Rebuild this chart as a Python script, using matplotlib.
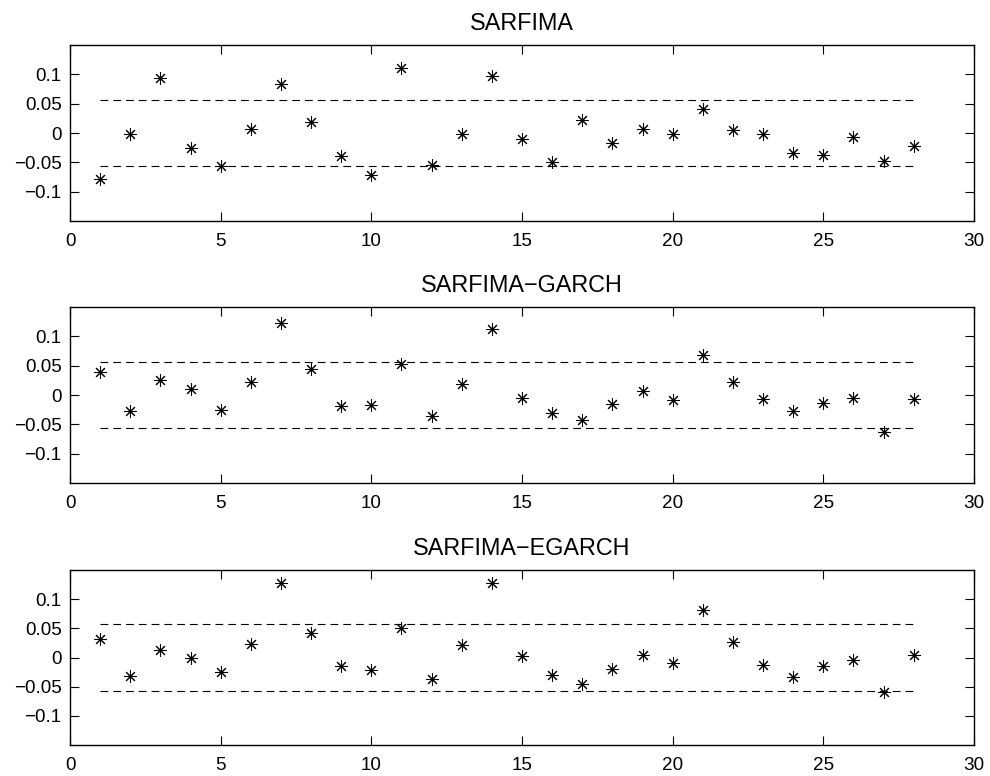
import matplotlib
matplotlib.use("Agg")
import matplotlib.pyplot as plt
import numpy as np

plt.rcParams['font.family'] = ['Liberation Sans', 'DejaVu Sans']

lags = list(range(1, 29))
titles = ["SARFIMA", "SARFIMA\u2212GARCH", "SARFIMA\u2212EGARCH"]
sarfima = [-0.078, -0.002, 0.094, -0.025, -0.056, 0.006, 0.083, 0.019, -0.039, -0.071,
           0.111, -0.055, -0.002, 0.097, -0.011, -0.050, 0.022, -0.017, 0.006, -0.002,
           0.041, 0.005, -0.001, -0.034, -0.038, -0.006, -0.047, -0.022]
sarfima_garch = [0.039, -0.027, 0.025, 0.011, -0.026, 0.022, 0.123, 0.044, -0.019, -0.017,
                 0.052, -0.035, 0.019, 0.113, -0.005, -0.030, -0.042, -0.016, 0.006, -0.009,
                 0.069, 0.023, -0.007, -0.028, -0.014, -0.005, -0.063, -0.006]
sarfima_egarch = [0.031, -0.032, 0.013, 0.000, -0.025, 0.024, 0.127, 0.042, -0.015, -0.022,
                  0.051, -0.036, 0.022, 0.127, 0.002, -0.030, -0.046, -0.019, 0.005, -0.009,
                  0.081, 0.026, -0.012, -0.033, -0.015, -0.005, -0.059, 0.004]
bound = 0.0566
xticks = [0, 5, 10, 15, 20, 25, 30]
yticks = [-0.1, -0.05, 0, 0.05, 0.1]
ytick_labels = ["\u22120.1", "\u22120.05", "0", "0.05", "0.1"]

series = [sarfima, sarfima_garch, sarfima_egarch]

W, H = 990, 776
fig = plt.figure(figsize=(W / 100, H / 100), dpi=100)
# axes pixel boxes: (left, top, right, bottom)
boxes = [(70, 45, 974, 221), (70, 307, 974, 483), (70, 570, 974, 745)]
asterisk = (8, 2, 0)
for (l, t, r, b), vals, title in zip(boxes, series, titles):
    ax = fig.add_axes([l / W, 1 - b / H, (r - l) / W, (b - t) / H])
    ax.plot(lags, vals, linestyle='none', marker=asterisk, markersize=9,
            markeredgecolor='black', markeredgewidth=0.75, color='black')
    ax.plot([lags[0], lags[-1]], [bound, bound], color='black', linewidth=0.8,
            dashes=(7, 4.5))
    ax.plot([lags[0], lags[-1]], [-bound, -bound], color='black', linewidth=0.8,
            dashes=(7, 4.5))
    ax.set_xlim(0, 30)
    ax.set_ylim(-0.15, 0.15)
    ax.set_xticks(xticks)
    ax.set_xticklabels([str(x) for x in xticks])
    ax.set_yticks(yticks)
    ax.set_yticklabels(ytick_labels)
    ax.tick_params(direction='in', length=6.5, width=0.8, top=True, right=True,
                   labelsize=13.6, colors='black')
    ax.tick_params(axis='x', pad=9)
    ax.tick_params(axis='y', pad=6)
    for s in ax.spines.values():
        s.set_linewidth(1.0)
    ax.set_title(title, fontsize=16.8, pad=11)

fig.savefig("out.png", dpi=100)
